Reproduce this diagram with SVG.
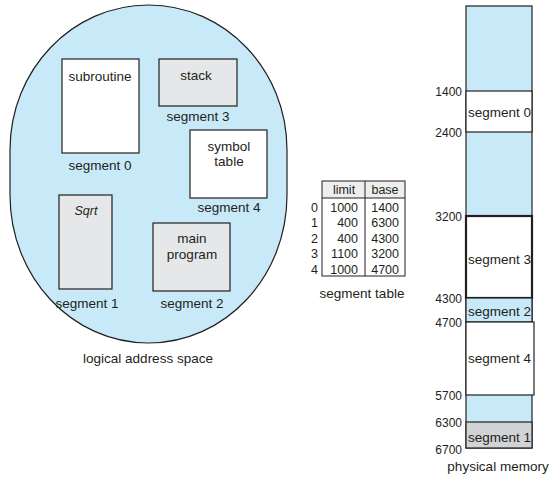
<svg xmlns="http://www.w3.org/2000/svg" width="552" height="478" viewBox="0 0 552 478">
<style>
text{font-family:"Liberation Sans",Arial,sans-serif;fill:#231f20;font-size:13.5px}
.c{text-anchor:middle}
.r{text-anchor:end}
.t{font-size:12.5px}
.m{font-size:12px}
.box{stroke:#231f20;stroke-width:1.2}
.w{fill:#ffffff}
.g{fill:#e6e7e8}
.b{fill:#c8e9f8}
</style>
<g id="logical-space">
<path d="M10,150 C10,70 72,5 148.5,5 C225,5 287,70 287,150 L287,195 C287,277 225,343 148.5,343 C72,343 10,277 10,195 Z" class="b" stroke="#231f20" stroke-width="1.2"/>
<text x="148" y="363" class="c">logical address space</text>
</g>
<g id="seg0">
<rect x="62" y="59" width="77" height="94" class="box w"/>
<text x="100" y="81" class="c">subroutine</text>
<text x="100" y="170" class="c">segment 0</text>
</g>
<g id="seg3">
<rect x="159" y="59" width="78" height="47" class="box g"/>
<text x="196" y="80" class="c">stack</text>
<text x="198" y="121" class="c">segment 3</text>
</g>
<g id="seg4">
<rect x="190" y="130" width="77" height="68" class="box w"/>
<text x="229" y="151" class="c">symbol</text>
<text x="229" y="166" class="c">table</text>
<text x="229" y="212" class="c">segment 4</text>
</g>
<g id="seg1">
<rect x="59" y="195" width="53" height="94" class="box g"/>
<text x="86" y="215" class="c" style="font-style:italic;font-size:12.5px">Sqrt</text>
<text x="87" y="308" class="c">segment 1</text>
</g>
<g id="seg2">
<rect x="153" y="223" width="77" height="68" class="box g"/>
<text x="192" y="243" class="c">main</text>
<text x="192" y="259" class="c">program</text>
<text x="192" y="308" class="c">segment 2</text>
</g>
<g id="segment-table">
<rect x="322" y="181" width="83" height="17" fill="#eeeeee"/>
<rect x="322" y="181" width="83" height="95" fill="none" stroke="#231f20" stroke-width="1"/>
<line x1="322" y1="198" x2="405" y2="198" stroke="#231f20" stroke-width="1"/>
<line x1="365" y1="181" x2="365" y2="276" stroke="#231f20" stroke-width="1"/>
<text x="344" y="194" class="c t">limit</text>
<text x="385" y="194" class="c t">base</text>
<text x="318" y="212" class="r t">0</text><text x="358" y="212" class="r t">1000</text><text x="399" y="212" class="r t">1400</text>
<text x="318" y="227" class="r t">1</text><text x="358" y="227" class="r t">400</text><text x="399" y="227" class="r t">6300</text>
<text x="318" y="243" class="r t">2</text><text x="358" y="243" class="r t">400</text><text x="399" y="243" class="r t">4300</text>
<text x="318" y="258" class="r t">3</text><text x="358" y="258" class="r t">1100</text><text x="399" y="258" class="r t">3200</text>
<text x="318" y="274" class="r t">4</text><text x="358" y="274" class="r t">1000</text><text x="399" y="274" class="r t">4700</text>
<text x="362" y="298" class="c">segment table</text>
</g>
<g id="physical-memory">
<rect x="466" y="6" width="66" height="442" class="box b"/>
<rect x="466" y="91" width="66" height="41" class="box w"/>
<rect x="466" y="216" width="66" height="82" fill="#ffffff" stroke="#231f20" stroke-width="2.2"/>
<rect x="466" y="298" width="66" height="24" class="box b"/>
<rect x="466" y="322" width="68" height="73" class="box w"/>
<rect x="466" y="422" width="66" height="26" fill="#d1d3d4" stroke="#231f20" stroke-width="1.2"/>
<text x="468" y="117">segment 0</text>
<text x="468" y="264">segment 3</text>
<text x="468" y="316">segment 2</text>
<text x="468" y="363">segment 4</text>
<text x="468" y="442">segment 1</text>
<text x="462" y="96" class="r m">1400</text>
<text x="462" y="137" class="r m">2400</text>
<text x="462" y="221" class="r m">3200</text>
<text x="462" y="303" class="r m">4300</text>
<text x="462" y="327" class="r m">4700</text>
<text x="462" y="400" class="r m">5700</text>
<text x="462" y="427" class="r m">6300</text>
<text x="462" y="454" class="r m">6700</text>
<text x="498" y="471" class="c">physical memory</text>
</g>
</svg>
